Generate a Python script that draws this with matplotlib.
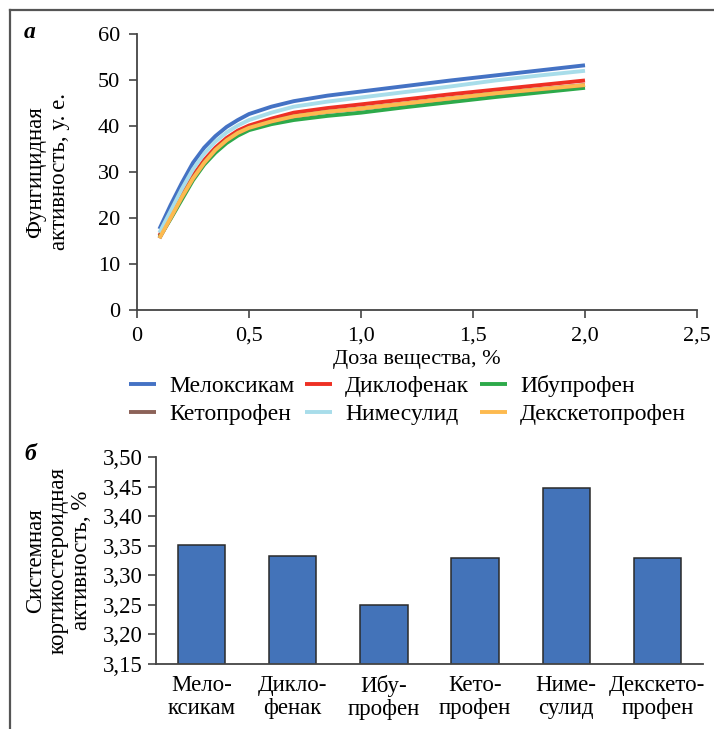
import matplotlib
matplotlib.use("Agg")
import matplotlib.pyplot as plt
from matplotlib.lines import Line2D

plt.rcParams['font.family'] = ['Liberation Serif', 'DejaVu Serif']

# --- panel a: fungicidal activity vs dose ---
dose = [0.1, 0.15, 0.2, 0.25, 0.3, 0.35, 0.4, 0.45, 0.5, 0.6, 0.7, 0.85,
        1.0, 1.2, 1.4, 1.6, 1.8, 2.0]
meloxicam = [17.6, 22.8, 27.6, 32.0, 35.3, 37.8, 39.8, 41.3, 42.6, 44.2, 45.4, 46.6,
             47.5, 48.7, 49.9, 51.0, 52.1, 53.2]
diclofenac = [16.2, 20.5, 25.0, 29.2, 32.6, 35.3, 37.4, 39.0, 40.1, 41.6, 42.9, 43.9,
              44.7, 45.8, 46.9, 47.9, 48.9, 49.9]
ibuprofen = [15.8, 19.8, 24.0, 28.2, 31.6, 34.2, 36.3, 37.9, 39.1, 40.4, 41.3, 42.2,
             42.9, 44.1, 45.2, 46.3, 47.3, 48.3]
ketoprofen = [15.6, 20.0, 24.5, 28.6, 32.0, 34.8, 36.9, 38.5, 39.6, 41.0, 42.1, 43.1,
              43.8, 44.9, 46.0, 47.1, 48.0, 48.9]
nimesulide = [16.8, 21.5, 26.3, 30.6, 34.0, 36.6, 38.6, 40.1, 41.3, 42.9, 44.2, 45.3,
              46.2, 47.4, 48.6, 49.9, 51.0, 52.0]
dexketoprofen = [15.6, 20.0, 24.5, 28.6, 32.0, 34.8, 36.9, 38.5, 39.6, 41.0, 42.1, 43.1,
                 43.8, 44.9, 46.0, 47.1, 48.0, 48.9]

names = ['Мелоксикам', 'Диклофенак', 'Ибупрофен', 'Кетопрофен', 'Нимесулид', 'Декскетопрофен']
series = [meloxicam, diclofenac, ibuprofen, ketoprofen, nimesulide, dexketoprofen]
colors = ['#4472C4', '#EE3024', '#2DAA4A', '#8C6258', '#A8DDEA', '#FDBA4F']

# --- panel b: systemic corticosteroid activity ---
bar_labels = ['Мело-\nксикам', 'Дикло-\nфенак', 'Ибу-\nпрофен', 'Кето-\nпрофен',
              'Ниме-\nсулид', 'Декскето-\nпрофен']
bar_values = [3.351, 3.333, 3.249, 3.330, 3.447, 3.330]

fig = plt.figure(figsize=(7.14, 7.29), dpi=100)
fs = 16
spine_c = '#444444'

# frame lines (top and left)
fig.add_artist(Line2D([10/714, 1], [1 - 10/729] * 2, color='#555555', lw=1.6))
fig.add_artist(Line2D([10/714] * 2, [0, 1 - 10/729], color='#555555', lw=1.6))

ax1 = fig.add_axes([137/714, 1 - 310/729, 560/714, 276/729])
for name, ys, c in zip(names, series, colors):
    ax1.plot(dose, ys, color=c, lw=2.8, label=name, solid_capstyle='butt',
             solid_joinstyle='round')
ax1.set_xlim(0, 2.5)
ax1.set_ylim(0, 60)
ax1.set_xticks([0, 0.5, 1.0, 1.5, 2.0, 2.5])
ax1.set_xticklabels(['0', '0,5', '1,0', '1,5', '2,0', '2,5'])
ax1.set_yticks(range(0, 61, 10))
ax1.set_xlabel('Доза вещества, %', fontsize=fs, labelpad=3)
ax1.set_ylabel('Фунгицидная\nактивность, у. е.', fontsize=fs + 0.5, labelpad=20,
               linespacing=1.2)
ax1.tick_params(labelsize=fs, length=6, color=spine_c, width=1.2, pad=6)
for s in ['top', 'right']:
    ax1.spines[s].set_visible(False)
for s in ['left', 'bottom']:
    ax1.spines[s].set_color(spine_c)
    ax1.spines[s].set_linewidth(1.3)
fig.text(24/714, 1 - 33/729, 'а', fontsize=fs + 1, fontweight='bold', fontstyle='italic',
         va='center', ha='left')

handles, labels = ax1.get_legend_handles_labels()
order = [0, 3, 1, 4, 2, 5]
fig.legend([handles[i] for i in order], [labels[i] for i in order], ncol=3,
           loc='upper left', bbox_to_anchor=(129/714, 1 - 375/729), frameon=False,
           fontsize=17, handlelength=1.15, handletextpad=0.55, columnspacing=0.45,
           labelspacing=0.28, borderaxespad=0, borderpad=0)

ax2 = fig.add_axes([156/714, 1 - 664/729, 547/714, 207/729])
ax2.bar(range(len(bar_values)), bar_values, width=0.52, color='#4373B9',
        edgecolor='#2a2a2a', linewidth=1.1)
ax2.set_xlim(-0.5, len(bar_values) - 0.5)
ax2.set_ylim(3.15, 3.50)
ax2.set_yticks([3.15, 3.20, 3.25, 3.30, 3.35, 3.40, 3.45, 3.50])
ax2.set_yticklabels(['3,15', '3,20', '3,25', '3,30', '3,35', '3,40', '3,45', '3,50'])
ax2.set_xticks(range(len(bar_values)))
ax2.set_xticklabels(bar_labels, linespacing=1.1)
ax2.tick_params(axis='x', length=0, pad=8)
ax2.tick_params(axis='y', length=6, color=spine_c, width=1.2)
ax2.tick_params(labelsize=fs + 0.5)
ax2.set_ylabel('Системная\nкортикостероидная\nактивность, %', fontsize=fs + 0.5,
               labelpad=8, linespacing=1.1)
for s in ['top', 'right']:
    ax2.spines[s].set_visible(False)
for s in ['left', 'bottom']:
    ax2.spines[s].set_color(spine_c)
    ax2.spines[s].set_linewidth(1.3)
fig.text(24/714, 1 - 455/729, 'б', fontsize=fs + 1, fontweight='bold', fontstyle='italic',
         va='center', ha='left')

fig.savefig('out.png', dpi=100)
